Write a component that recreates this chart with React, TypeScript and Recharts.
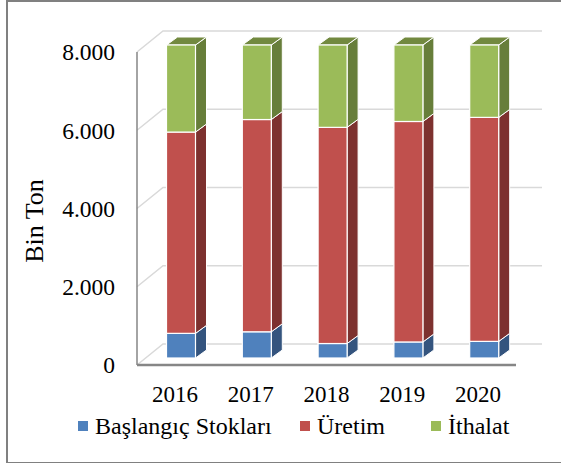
import { BarChart, Bar, XAxis, YAxis, CartesianGrid } from 'recharts';

const years = ['2016', '2017', '2018', '2019', '2020'];
const baslangicStoklari = [630, 670, 370, 410, 425];
const uretim = [5145, 5425, 5525, 5635, 5725];
const ithalat = [2225, 1905, 2105, 1955, 1850];
const yTicks = [0, 2000, 4000, 6000, 8000];

const data = years.map((year, i) => ({
  year,
  stok: baslangicStoklari[i],
  uretim: uretim[i],
  ithalat: ithalat[i],
}));

const series = [
  { key: 'stok', name: 'Başlangıç Stokları', front: '#4F81BD', side: '#34547E' },
  { key: 'uretim', name: 'Üretim', front: '#C0504D', side: '#7D312F' },
  { key: 'ithalat', name: 'İthalat', front: '#9BBB59', side: '#677E3A', top: '#72893F' },
];

const FONT = '"Liberation Serif", "Times New Roman", serif';

// pseudo-3D offsets (Excel style)
const SHIFT_X = 6.5;
const SHIFT_Y = -7;
const DEPTH_X = 11;
const DEPTH_Y = 8;
const WALL_X = 26;
const WALL_Y = 21;

const fmt = (v: number) => String(v).replace(/\B(?=(\d{3})+(?!\d))/g, '.');

function bar3d(front: string, side: string, top?: string) {
  return (props: any) => {
    const { x, y, width, height } = props;
    if (!height || height <= 0) return <g />;
    const fx = x + SHIFT_X;
    const fy = y + SHIFT_Y;
    const r = fx + width;
    const b = fy + height;
    return (
      <g>
        <polygon
          points={`${r},${fy} ${r + DEPTH_X},${fy - DEPTH_Y} ${r + DEPTH_X},${b - DEPTH_Y} ${r},${b}`}
          fill={side}
          stroke="#fff"
          strokeWidth={1}
        />
        {top && (
          <polygon
            points={`${fx},${fy} ${fx + DEPTH_X},${fy - DEPTH_Y} ${r + DEPTH_X},${fy - DEPTH_Y} ${r},${fy}`}
            fill={top}
            stroke="#fff"
            strokeWidth={1}
          />
        )}
        <rect x={fx} y={fy} width={width} height={height} fill={front} stroke="#fff" strokeWidth={1.2} />
      </g>
    );
  };
}

const gridLine = (props: any) => {
  const { x1, y1, x2, key } = props;
  return (
    <polyline
      key={key}
      points={`${x1},${y1} ${x1 + WALL_X},${y1 - WALL_Y} ${x2 + WALL_X},${y1 - WALL_Y}`}
      fill="none"
      stroke="#d9d9d9"
      strokeWidth={1.5}
    />
  );
};

const legendSlots = [222, 131, 120];

export default function App() {
  return (
    <div style={{ position: 'absolute', left: 0, top: 0, width: 561, height: 463, background: '#fff' }}>
      <div
        style={{
          position: 'absolute',
          left: 6,
          top: 0,
          width: 560,
          height: 460,
          border: '2px solid #808080',
          borderRight: 'none',
        }}
      />
      <div style={{ position: 'absolute', left: 0, top: 0 }}>
        <BarChart width={561} height={463} data={data} margin={{ top: 52, right: 45, bottom: 68, left: 0 }}>
          <CartesianGrid vertical={false} horizontal={gridLine} />
          <XAxis
            dataKey="year"
            height={30}
            tickLine={false}
            tickSize={0}
            tickMargin={21}
            axisLine={{ stroke: '#868686', strokeWidth: 2.5 }}
            tick={{ fontSize: 23, fill: '#000', fontFamily: FONT }}
          />
          <YAxis
            domain={[0, 8000]}
            ticks={yTicks}
            width={137}
            tickFormatter={fmt}
            tickLine={false}
            tickSize={0}
            tickMargin={22}
            axisLine={{ stroke: '#868686', strokeWidth: 1.5 }}
            tick={{ fontSize: 23.5, fill: '#000', fontFamily: FONT }}
          />
          {series.map((s) => (
            <Bar
              key={s.key}
              dataKey={s.key}
              name={s.name}
              stackId="a"
              barSize={29}
              fill={s.front}
              shape={bar3d(s.front, s.side, s.top)}
              isAnimationActive={false}
            />
          ))}
        </BarChart>
      </div>
      <div
        style={{
          position: 'absolute',
          left: 35,
          top: 221,
          transform: 'translate(-50%, -50%) rotate(-90deg)',
          fontFamily: FONT,
          fontSize: 26,
          whiteSpace: 'nowrap',
          lineHeight: 1,
          color: '#000',
        }}
      >
        Bin Ton
      </div>
      <div
        style={{
          position: 'absolute',
          left: 78,
          top: 412,
          display: 'flex',
          fontFamily: FONT,
          fontSize: 24,
          lineHeight: '28px',
          color: '#000',
        }}
      >
        {series.map((s, i) => (
          <div key={s.key} style={{ width: legendSlots[i], display: 'flex', alignItems: 'center' }}>
            <span style={{ width: 10, height: 10, background: s.front, marginRight: 7, display: 'inline-block' }} />
            <span>{s.name}</span>
          </div>
        ))}
      </div>
    </div>
  );
}
